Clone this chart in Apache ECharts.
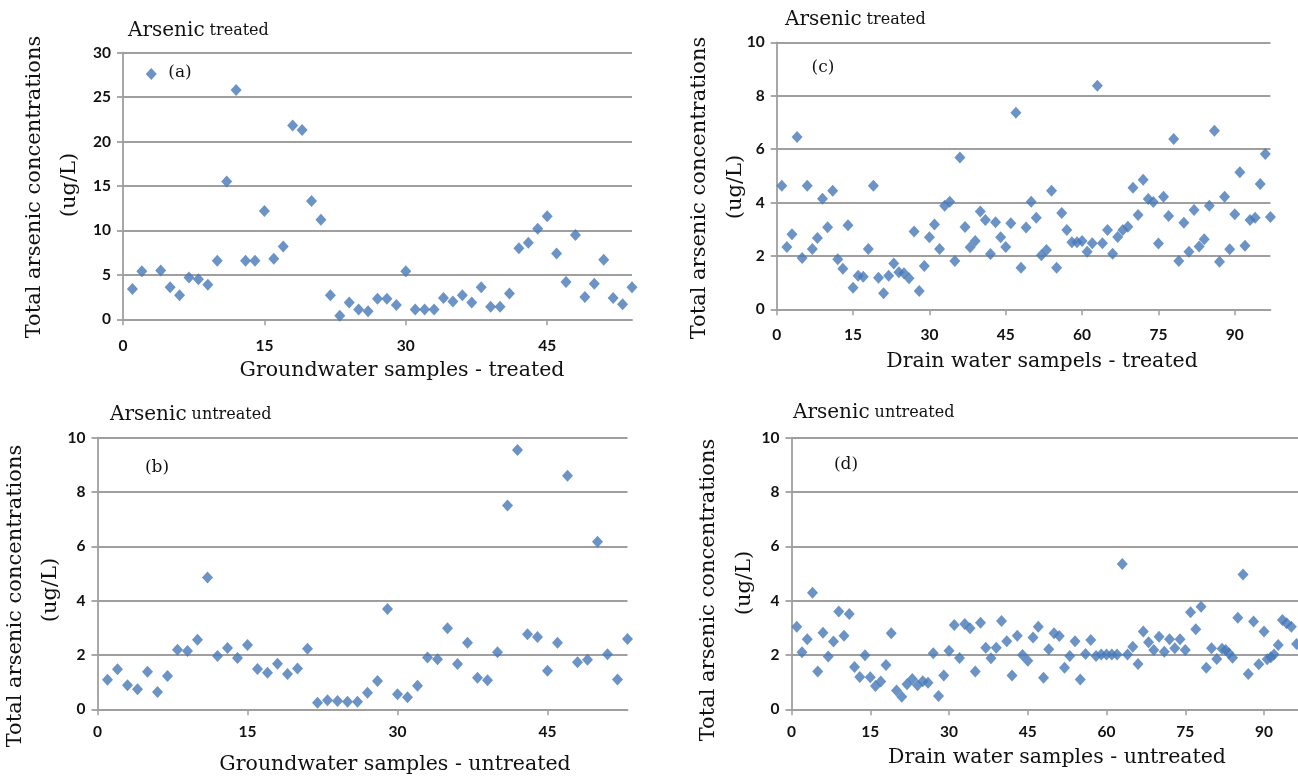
<!DOCTYPE html>
<html>
<head>
<meta charset="utf-8">
<script src="https://cdn.jsdelivr.net/npm/echarts@6/dist/echarts.min.js"></script>
<style>
html,body{margin:0;padding:0;background:#fff;}
#chart{width:1298px;height:778px;}
</style>
</head>
<body>
<div id="chart"></div>
<script>
// ---------- data ----------
// (a) Groundwater samples - treated, sample 1..54
const gwTreated = [3.4, 5.4, 27.6, 5.5, 3.6, 2.7, 4.7, 4.5, 3.9, 6.6,
  15.5, 25.8, 6.6, 6.6, 12.2, 6.8, 8.2, 21.8, 21.3, 13.3,
  11.2, 2.7, 0.4, 1.9, 1.1, 0.9, 2.3, 2.3, 1.6, 5.4,
  1.1, 1.1, 1.1, 2.4, 2.0, 2.7, 1.9, 3.6, 1.4, 1.4,
  2.9, 8.0, 8.6, 10.2, 11.6, 7.4, 4.2, 9.5, 2.5, 4.0,
  6.7, 2.4, 1.7, 3.6];

// (c) Drain water samples - treated, sample 1..97
const drainTreated = [4.63, 2.33, 2.81, 6.45, 1.92, 4.63, 2.26, 2.67, 4.14, 3.07,
  4.44, 1.87, 1.52, 3.15, 0.81, 1.26, 1.22, 2.26, 4.63, 1.18,
  0.6, 1.26, 1.72, 1.39, 1.35, 1.16, 2.91, 0.69, 1.62, 2.7,
  3.18, 2.26, 3.88, 4.03, 1.81, 5.69, 3.08, 2.32, 2.56, 3.66,
  3.34, 2.07, 3.26, 2.7, 2.33, 3.22, 7.36, 1.56, 3.06, 4.03,
  3.43, 2.02, 2.22, 4.44, 1.56, 3.61, 2.97, 2.51, 2.51, 2.56,
  2.16, 2.47, 8.37, 2.47, 2.97, 2.08, 2.71, 2.97, 3.09, 4.55,
  3.53, 4.85, 4.13, 4.02, 2.46, 4.22, 3.49, 6.38, 1.81, 3.24,
  2.16, 3.72, 2.35, 2.62, 3.88, 6.69, 1.78, 4.22, 2.25, 3.56,
  5.13, 2.38, 3.34, 3.43, 4.69, 5.82, 3.46];

// (b) Groundwater samples - untreated, sample 1..53
const gwUntreated = [1.09, 1.47, 0.89, 0.74, 1.38, 0.64, 1.23, 2.19, 2.15, 2.56,
  4.85, 1.96, 2.26, 1.89, 2.37, 1.48, 1.35, 1.68, 1.3, 1.5,
  2.23, 0.24, 0.33, 0.31, 0.28, 0.28, 0.61, 1.04, 3.69, 0.55,
  0.44, 0.87, 1.91, 1.84, 2.98, 1.67, 2.45, 1.16, 1.07, 2.1,
  7.5, 9.55, 2.76, 2.66, 1.42, 2.45, 8.6, 1.73, 1.82, 6.17,
  2.03, 1.1, 2.59];

// (d) Drain water samples - untreated (x positions as read)
const drainUntreatedX = [1, 2, 3, 4, 5, 6, 7, 8, 9, 10,
  11, 12, 13, 14, 15, 16, 17, 18, 19, 20,
  21, 22, 23, 24, 25, 26, 27, 28, 29, 30,
  31, 32, 33, 34, 35, 36, 37, 38, 39, 40,
  41, 42, 43, 44, 45, 46, 47, 48, 49, 50,
  51, 52, 53, 54, 55, 56, 57, 58, 59, 60,
  61, 62, 63, 64, 65, 66, 67, 68, 69, 70,
  71, 72, 73, 74, 75, 76, 77, 78, 79, 80,
  81, 82, 82.7, 83.3, 84, 85, 86, 87, 88, 89,
  90, 90.6, 91.3, 91.9, 92.7, 93.5, 94.3, 95.2, 96.2];
const drainUntreatedY = [3.04, 2.1, 2.58, 4.29, 1.39, 2.82, 1.94, 2.5, 3.6, 2.71,
  3.51, 1.56, 1.19, 1.99, 1.18, 0.86, 1.02, 1.63, 2.8, 0.69,
  0.46, 0.92, 1.12, 0.89, 1.03, 0.98, 2.06, 0.49, 1.24, 2.16,
  3.1, 1.89, 3.14, 2.98, 1.39, 3.19, 2.27, 1.88, 2.27, 3.25,
  2.51, 1.24, 2.71, 2.0, 1.79, 2.64, 3.04, 1.16, 2.21, 2.8,
  2.7, 1.53, 1.96, 2.51, 1.1, 2.04, 2.55, 1.96, 2.02, 2.02,
  2.02, 2.02, 5.35, 2.02, 2.3, 1.67, 2.86, 2.47, 2.18, 2.67,
  2.12, 2.58, 2.25, 2.58, 2.18, 3.57, 2.95, 3.78, 1.53, 2.25,
  1.85, 2.23, 2.18, 2.06, 1.9, 3.37, 4.96, 1.3, 3.23, 1.66,
  2.86, 1.84, 1.92, 2.02, 2.37, 3.29, 3.17, 3.04, 2.4];

// tick labels
const xTicksGroundwater = [0, 15, 30, 45];
const xTicksDrain = [0, 15, 30, 45, 60, 75, 90];

// texts
const yName1 = 'Total arsenic concentrations';
const yName2 = '(ug/L)';
const panelTitles = [['Arsenic', 'treated'], ['Arsenic', 'treated'], ['Arsenic', 'untreated'], ['Arsenic', 'untreated']];
const panelLetters = ['(a)', '(c)', '(b)', '(d)'];
const xNames = ['Groundwater samples - treated', 'Drain water sampels - treated',
  'Groundwater samples - untreated', 'Drain water samples - untreated'];

// ---------- styling ----------
const GRID_C = '#9f9f9f';
const MARK_C = '#4678b8';
const SERIF = '"DejaVu Serif", serif';
const SANS = 'Lato, "Liberation Sans", sans-serif';

// panel geometry: a, c, b, d
const grids = [
  {left: 123, top: 52.7, width: 509, height: 266.6},
  {left: 776.7, top: 42.3, width: 493.7, height: 267},
  {left: 97.5, top: 437.7, width: 530, height: 271.6},
  {left: 791.5, top: 437.7, width: 509.3, height: 271.6}
];
const xMax = [54, 97, 53, 97];
const yMax = [30, 10, 10, 10];
const yInt = [5, 2, 2, 2];
const xTicks = [xTicksGroundwater, xTicksDrain, xTicksGroundwater, xTicksDrain];
const xLabelMargin = [19, 18, 15, 15];

const seriesData = [
  gwTreated.map((v, i) => [i + 1, v]),
  drainTreated.map((v, i) => [i + 1, v]),
  gwUntreated.map((v, i) => [i + 1, v]),
  drainUntreatedX.map((x, i) => [x, drainUntreatedY[i]])
];

// text placements
const titlePos = [[128, 31], [785, 20], [110, 415], [793, 413]];
const letterPos = [[180, 73], [823, 68], [157, 468], [846, 465]];
const yNamePos = [[[35, 187], [70, 185]], [[700, 188], [736, 187]], [[16, 596], [51, 590]], [[709, 590], [745, 583]]];
const xNamePos = [[402, 371], [1042, 362], [395, 765], [1057, 758]];

function textEl(x, y, text, size, rot) {
  return {
    type: 'text', x: x, y: y, rotation: rot || 0, silent: true, z: 10,
    style: {
      text: text, fill: '#111', font: size + 'px ' + SERIF,
      textAlign: 'center', textVerticalAlign: 'middle',
      align: 'center', verticalAlign: 'middle'
    }
  };
}

const graphics = [];
for (let i = 0; i < 4; i++) {
  graphics.push(textEl(letterPos[i][0], letterPos[i][1], panelLetters[i], 17));
  graphics.push(textEl(yNamePos[i][0][0], yNamePos[i][0][1], yName1, 21, Math.PI / 2));
  graphics.push(textEl(yNamePos[i][1][0], yNamePos[i][1][1], yName2, 21, Math.PI / 2));
  graphics.push(textEl(xNamePos[i][0], xNamePos[i][1], xNames[i], 20.5));
}

const titles = panelTitles.map((t, i) => ({
  text: '{a|' + t[0] + '} {b|' + t[1] + '}',
  left: titlePos[i][0], top: titlePos[i][1] - 12, padding: 0,
  textStyle: {
    fontWeight: 'normal',
    rich: {
      a: {fontFamily: SERIF, fontSize: 20, fontWeight: 'normal', color: '#111', lineHeight: 24},
      b: {fontFamily: SERIF, fontSize: 16, fontWeight: 'normal', color: '#111', lineHeight: 24}
    }
  }
}));

const option = {
  animation: false,
  backgroundColor: '#fff',
  title: titles,
  graphic: graphics,
  grid: grids.map(g => Object.assign({containLabel: false, outerBoundsMode: 'none'}, g)),
  xAxis: grids.map((g, i) => ({
    type: 'value', gridIndex: i, min: 0, max: xMax[i], interval: 15,
    axisLine: {show: true, onZero: false, lineStyle: {color: GRID_C, width: 1.8}},
    axisTick: {show: true, inside: false, length: 6, customValues: xTicks[i], lineStyle: {color: GRID_C, width: 1.5}},
    axisLabel: {show: true, customValues: xTicks[i], margin: xLabelMargin[i], fontFamily: SANS, fontWeight: 'bold', fontSize: 15.5, color: '#111'},
    splitLine: {show: false}
  })),
  yAxis: grids.map((g, i) => ({
    type: 'value', gridIndex: i, min: 0, max: yMax[i], interval: yInt[i],
    axisLine: {show: true, lineStyle: {color: GRID_C, width: 1.8}},
    axisTick: {show: true, inside: false, length: 6, lineStyle: {color: GRID_C, width: 1.8}},
    axisLabel: {show: true, margin: 12, fontFamily: SANS, fontWeight: 'bold', fontSize: 15.5, color: '#111'},
    splitLine: {show: true, lineStyle: {color: GRID_C, width: 1.8}}
  })),
  series: seriesData.map((d, i) => ({
    type: 'scatter', xAxisIndex: i, yAxisIndex: i, data: d,
    symbol: 'diamond', symbolSize: [11, 12], clip: false, silent: true,
    itemStyle: {color: MARK_C}
  }))
};

const chart = echarts.init(document.getElementById('chart'), null, {renderer: 'canvas'});
chart.setOption(option);
</script>
</body>
</html>
